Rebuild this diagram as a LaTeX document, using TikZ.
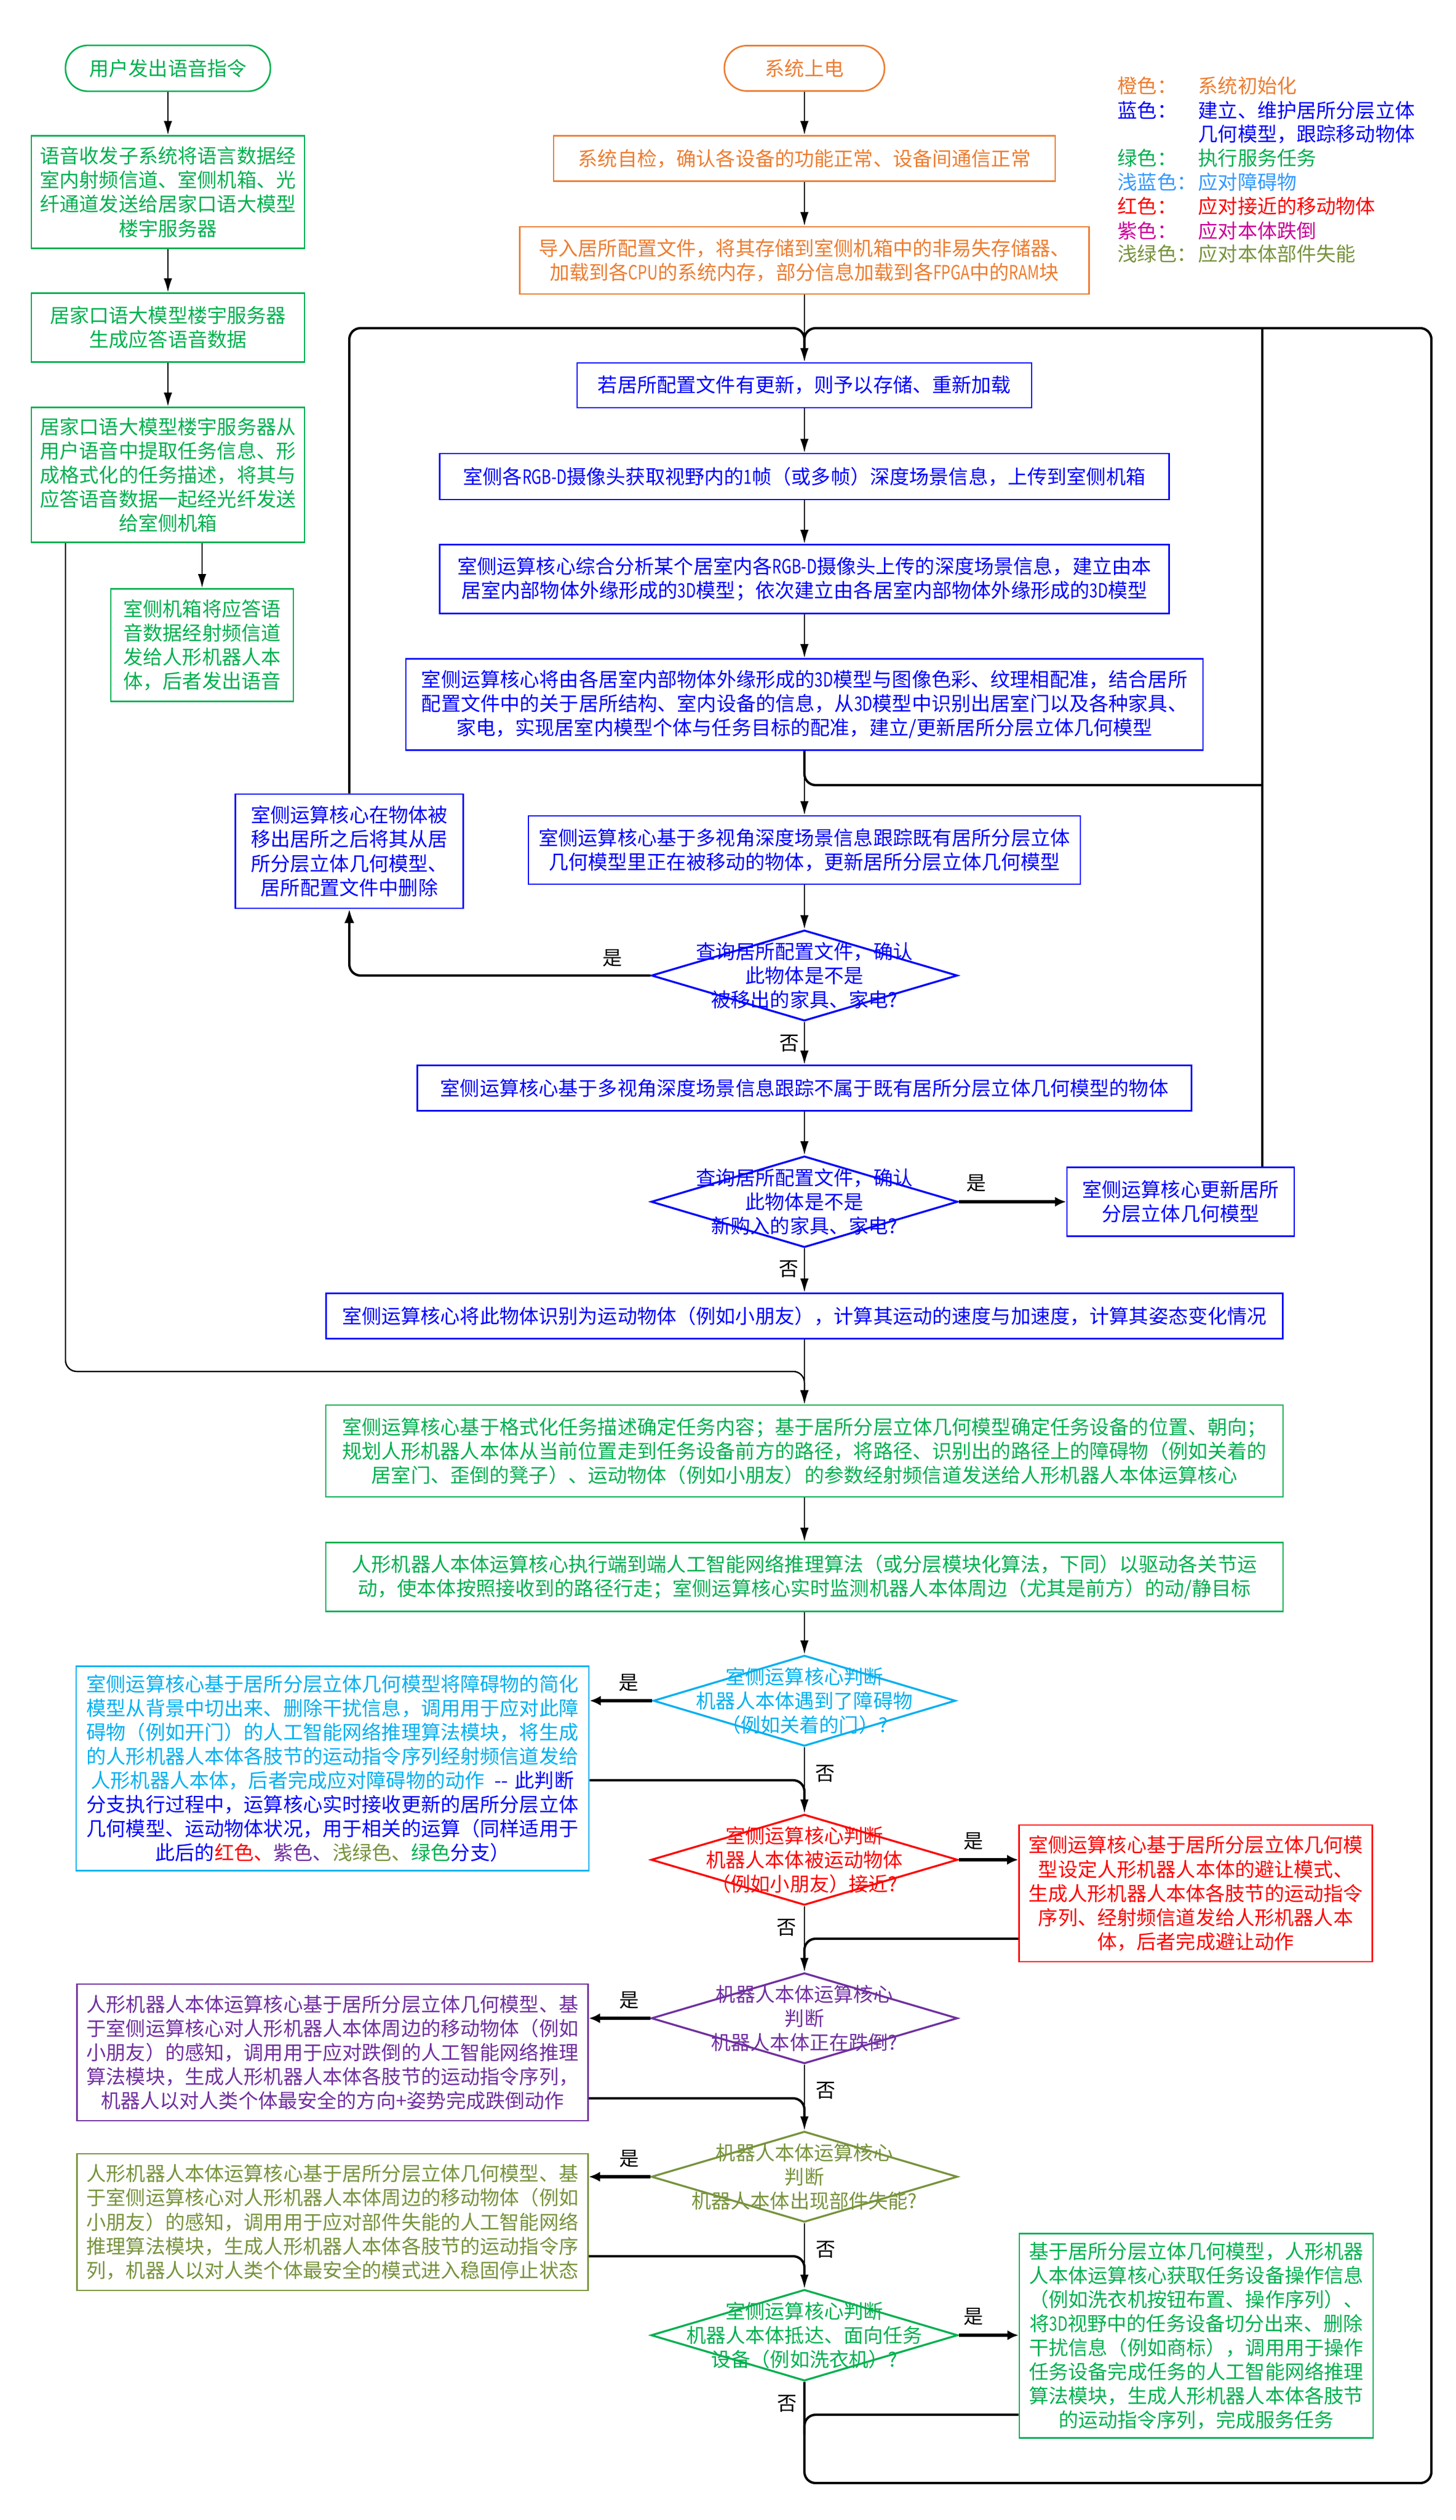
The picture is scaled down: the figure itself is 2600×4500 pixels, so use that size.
\documentclass[tikz,border=0pt]{standalone}
\usepackage{fontspec}
\setmainfont{Noto Sans CJK SC}
\usepackage{graphicx}
\usetikzlibrary{arrows.meta,shapes.geometric,calc}
\definecolor{cOr}{HTML}{ED7D31}
\definecolor{cBl}{HTML}{0000FF}
\definecolor{cGr}{HTML}{00B050}
\definecolor{cCy}{HTML}{00B0F0}
\definecolor{cRd}{HTML}{FF0000}
\definecolor{cPu}{HTML}{7030A0}
\definecolor{cOl}{HTML}{77933C}
\definecolor{cLc}{HTML}{3399FF}
\definecolor{cMg}{HTML}{CC0099}
\newcommand\myfs{\fontsize{10pt}{12.25pt}\selectfont}
\newcommand\lat[1]{\scalebox{0.75}[1]{#1}}
\begin{document}
\begin{tikzpicture}[x=0.1mm,y=-0.1mm,font=\myfs,
  box/.style 2 args={draw,rectangle,line width=0.8pt,minimum width=#1mm,minimum height=#2mm,inner sep=0pt,align=center},
  pill/.style 2 args={box={#1}{#2},rounded corners=4mm},
  dia/.style 2 args={draw,diamond,line width=1pt,minimum width=#1mm,minimum height=#2mm,inner sep=0pt},
  dtxt/.style={align=center,inner sep=0pt},
  ln/.style={line width=0.7pt,draw=black},
  ar/.style={ln,-{Latex[length=2.5mm,width=1.5mm]}},
  thk/.style={line width=1.2pt,draw=black},
  yar/.style={line width=1.5pt,draw=black,-{Latex[length=2mm,width=1.8mm]}},
  rc/.style={rounded corners=2mm},
  lab/.style={inner sep=0pt,text=black},
  leg/.style={anchor=west,inner sep=0pt}]
\fill[white] (0,0) rectangle (2600,4500);
\useasboundingbox (0,0) rectangle (2600,4500);

% ---------- left column (green) ----------
\node[pill={36.6}{8.2},cGr] (pg) at (300,122) {用户发出语音指令};
\node[box={48.8}{20.1},cGr] (g1) at (300,343) {语音收发子系统将语言数据经\\室内射频信道、室侧机箱、光\\纤通道发送给居家口语大模型\\楼宇服务器};
\node[box={48.8}{12.3},cGr] (g2) at (300,585) {居家口语大模型楼宇服务器\\生成应答语音数据};
\node[box={48.8}{24.1},cGr] (g3) at (300,848) {居家口语大模型楼宇服务器从\\用户语音中提取任务信息、形\\成格式化的任务描述，将其与\\应答语音数据一起经光纤发送\\给室侧机箱};
\node[box={32.6}{20.1},cGr] (g4) at (361,1152) {室侧机箱将应答语\\音数据经射频信道\\发给人形机器人本\\体，后者发出语音};

% ---------- orange ----------
\node[pill={28.6}{8.1},cOr] (po) at (1437,122) {系统上电};
\node[box={89.6}{8.1},cOr] (o1) at (1437,283) {系统自检，确认各设备的功能正常、设备间通信正常};
\node[box={101.7}{12.0},cOr] (o2) at (1437,465) {导入居所配置文件，将其存储到室侧机箱中的非易失存储器、\\加载到各\lat{CPU}的系统内存，部分信息加载到各\lat{FPGA}中的\lat{RAM}块};

% ---------- blue ----------
\node[box={81.2}{8.0},cBl] (b1) at (1437,688) {若居所配置文件有更新，则予以存储、重新加载};
\node[box={130.3}{8.2},cBl] (b2) at (1437,851) {室侧各\lat{RGB-D}摄像头获取视野内的\lat{1}帧（或多帧）深度场景信息，上传到室侧机箱};
\node[box={130.3}{12.3},cBl] (b3) at (1437,1034) {室侧运算核心综合分析某个居室内各\lat{RGB-D}摄像头上传的深度场景信息，建立由本\\居室内部物体外缘形成的\lat{3D}模型；依次建立由各居室内部物体外缘形成的\lat{3D}模型};
\node[box={142.4}{16.3},cBl] (b4) at (1437,1258) {室侧运算核心将由各居室内部物体外缘形成的\lat{3D}模型与图像色彩、纹理相配准，结合居所\\配置文件中的关于居所结构、室内设备的信息，从\lat{3D}模型中识别出居室门以及各种家具、\\家电，实现居室内模型个体与任务目标的配准，建立/更新居所分层立体几何模型};
\node[box={40.7}{20.4},cBl] (del) at (624,1520) {室侧运算核心在物体被\\移出居所之后将其从居\\所分层立体几何模型、\\居所配置文件中删除};
\node[box={98.6}{12.2},cBl] (trk) at (1437,1518) {室侧运算核心基于多视角深度场景信息跟踪既有居所分层立体\\几何模型里正在被移动的物体，更新居所分层立体几何模型};
\node[dia={54.7}{16.2},cBl] (d1) at (1437,1742) {};
\node[dtxt,cBl] (d1t) at (d1) {查询居所配置文件，确认\\此物体是不是\\被移出的家具、家电?};
\node[box={138.3}{8.1},cBl] (nb) at (1437,1943) {室侧运算核心基于多视角深度场景信息跟踪不属于既有居所分层立体几何模型的物体};
\node[dia={54.8}{16.3},cBl] (d2) at (1437,2146) {};
\node[dtxt,cBl] (d2t) at (d2) {查询居所配置文件，确认\\此物体是不是\\新购入的家具、家电?};
\node[box={40.6}{12.3},cBl] (upd) at (2109,2146) {室侧运算核心更新居所\\分层立体几何模型};
\node[box={170.9}{8.1},cBl] (mv) at (1437,2350) {室侧运算核心将此物体识别为运动物体（例如小朋友），计算其运动的速度与加速度，计算其姿态变化情况};

% ---------- green tasks ----------
\node[box={171}{16.4},cGr] (t1) at (1437,2591) {室侧运算核心基于格式化任务描述确定任务内容；基于居所分层立体几何模型确定任务设备的位置、朝向；\\规划人形机器人本体从当前位置走到任务设备前方的路径，将路径、识别出的路径上的障碍物（例如关着的\\居室门、歪倒的凳子）、运动物体（例如小朋友）的参数经射频信道发送给人形机器人本体运算核心};
\node[box={171}{12.3},cGr] (t2) at (1437,2816) {人形机器人本体运算核心执行端到端人工智能网络推理算法（或分层模块化算法，下同）以驱动各关节运\\动，使本体按照接收到的路径行走；室侧运算核心实时监测机器人本体周边（尤其是前方）的动/静目标};

% ---------- cyan ----------
\node[dia={54}{16.2},cCy] (dC) at (1437,3037) {};
\node[dtxt,cCy] (dCt) at (dC) {室侧运算核心判断\\机器人本体遇到了障碍物\\（例如关着的门）?};
\node[box={91.6}{36.5},cCy] (cbox) at (594,3158) {室侧运算核心基于居所分层立体几何模型将障碍物的简化\\模型从背景中切出来、删除干扰信息，调用用于应对此障\\碍物（例如开门）的人工智能网络推理算法模块，将生成\\的人形机器人本体各肢节的运动指令序列经射频信道发给\\人形机器人本体，后者完成应对障碍物的动作\textcolor{cBl}{\hspace{0.5em}-{}-\hspace{0.35em}此判断}\\\textcolor{cBl}{分支执行过程中，运算核心实时接收更新的居所分层立体}\\\textcolor{cBl}{几何模型、运动物体状况，用于相关的运算（同样适用于}\\\textcolor{cBl}{此后的}\textcolor{cRd}{红色、}\textcolor{cPu}{紫色、}\textcolor{cOl}{浅绿色、}\textcolor{cGr}{绿色}\textcolor{cBl}{分支）}};

% ---------- red ----------
\node[dia={54.8}{16.2},cRd] (dR) at (1437,3321) {};
\node[dtxt,cRd] (dRt) at (dR) {室侧运算核心判断\\机器人本体被运动物体\\（例如小朋友）接近?};
\node[box={63.1}{24.4},cRd] (rbox) at (2136,3381) {室侧运算核心基于居所分层立体几何模\\型设定人形机器人本体的避让模式、\\生成人形机器人本体各肢节的运动指令\\序列、经射频信道发给人形机器人本\\体，后者完成避让动作};

% ---------- purple ----------
\node[dia={54.7}{16.2},cPu] (dP) at (1437,3604) {};
\node[dtxt,cPu] (dPt) at (dP) {机器人本体运算核心\\判断\\机器人本体正在跌倒?};
\node[box={91.3}{24.4},cPu] (pbox) at (594,3665) {人形机器人本体运算核心基于居所分层立体几何模型、基\\于室侧运算核心对人形机器人本体周边的移动物体（例如\\小朋友）的感知，调用用于应对跌倒的人工智能网络推理\\算法模块，生成人形机器人本体各肢节的运动指令序列，\\机器人以对人类个体最安全的方向+姿势完成跌倒动作};

% ---------- olive ----------
\node[dia={54.7}{16.2},cOl] (dO) at (1437,3887) {};
\node[dtxt,cOl] (dOt) at (dO) {机器人本体运算核心\\判断\\机器人本体出现部件失能?};
\node[box={91.3}{24.4},cOl] (obox) at (594,3968) {人形机器人本体运算核心基于居所分层立体几何模型、基\\于室侧运算核心对人形机器人本体周边的移动物体（例如\\小朋友）的感知，调用用于应对部件失能的人工智能网络\\推理算法模块，生成人形机器人本体各肢节的运动指令序\\列，机器人以对人类个体最安全的模式进入稳固停止状态};

% ---------- green final ----------
\node[dia={54.8}{16.3},cGr] (dG) at (1437,4170) {};
\node[dtxt,cGr] (dGt) at (dG) {室侧运算核心判断\\机器人本体抵达、面向任务\\设备（例如洗衣机）?};
\node[box={63.2}{36.5},cGr] (fbox) at (2137,4171) {基于居所分层立体几何模型，人形机器\\人本体运算核心获取任务设备操作信息\\（例如洗衣机按钮布置、操作序列）、\\将\lat{3D}视野中的任务设备切分出来、删除\\干扰信息（例如商标），调用用于操作\\任务设备完成任务的人工智能网络推理\\算法模块，生成人形机器人本体各肢节\\的运动指令序列，完成服务任务};

% ---------- legend ----------
\node[leg,cOr] (la1) at (1996,153) {橙色：};
\node[leg,cOr] (lb1) at (2140,153) {系统初始化};
\node[leg,cBl] (la2) at (1996,197) {蓝色：};
\node[leg,cBl] (lb2) at (2140,197) {建立、维护居所分层立体};
\node[leg,cBl] (lb2b) at (2140,240) {几何模型，跟踪移动物体};
\node[leg,cGr] (la3) at (1996,282) {绿色：};
\node[leg,cGr] (lb3) at (2140,282) {执行服务任务};
\node[leg,cLc] (la4) at (1996,325) {浅蓝色：};
\node[leg,cLc] (lb4) at (2140,325) {应对障碍物};
\node[leg,cRd] (la5) at (1996,368) {红色：};
\node[leg,cRd] (lb5) at (2140,368) {应对接近的移动物体};
\node[leg,cMg] (la6) at (1996,412) {紫色：};
\node[leg,cMg] (lb6) at (2140,412) {应对本体跌倒};
\node[leg,cOl] (la7) at (1996,453) {浅绿色：};
\node[leg,cOl] (lb7) at (2140,453) {应对本体部件失能};

% ---------- coordinates ----------
\coordinate (jL) at (117,2449);
\coordinate (jT) at (1437,586);
\coordinate (jM) at (1437,1402);
\coordinate (xR) at (2255,0);
\coordinate (xRR) at (2557,0);
\coordinate (jB) at (1437,4434);
\coordinate (rC) at (1437,3179);
\coordinate (rR) at (1437,3462);
\coordinate (rP) at (1437,3747);
\coordinate (rO) at (1437,4029);
\coordinate (rG) at (1437,4312);

% ---------- connectors ----------
\draw[ar] (pg) -- (g1);
\draw[ar] (g1) -- (g2);
\draw[ar] (g2) -- (g3);
\draw[ar] (g4.north |- g3.south) -- (g4.north);
\draw[ar,rc] (g3.south -| jL) -- (jL) -- (jL -| t1.north) -- (t1.north);

\draw[ar] (po) -- (o1);
\draw[ar] (o1) -- (o2);
\draw[ar] (o2) -- (b1);
\draw[thk,rc] (del.north) -- (del.north |- jT) -- (jT) -- ($(jT)+(0,40)$);
\draw[thk,rc] (dG.south) -- (jB) -- (jB -| xRR) -- (jT -| xRR) -- (jT) -- ($(jT)+(0,40)$);
\draw[thk] (upd.north -| xR) -- (jT -| xR);
\draw[thk,rc] (b4.south) -- (jM) -- (jM -| xR);

\draw[ar] (b1) -- (b2);
\draw[ar] (b2) -- (b3);
\draw[ar] (b3) -- (b4);
\draw[ar] (b4) -- (trk);
\draw[ar] (trk) -- (d1);
\draw[thk,rc,-{Latex[length=2.5mm,width=1.8mm]}] (d1.west) -- (d1.west -| del.south) -- (del.south);
\draw[ar] (d1) -- (nb);
\draw[ar] (nb) -- (d2);
\draw[yar] (d2.east) -- (upd.west);
\draw[ar] (d2) -- (mv);
\draw[ar] (mv) -- (t1);
\draw[ar] (t1) -- (t2);
\draw[ar] (t2) -- (dC);

\draw[yar] (dC.west) -- (cbox.east |- dC.west);
\draw[ar] (dC) -- (dR);
\draw[thk,rc] (rC -| cbox.east) -- (rC) -- ($(rC)+(0,35)$);
\draw[yar] (dR.east) -- (rbox.west |- dR.east);
\draw[ar] (dR) -- (dP);
\draw[thk,rc] (rR -| rbox.west) -- (rR) -- ($(rR)+(0,35)$);
\draw[yar] (dP.west) -- (pbox.east |- dP.west);
\draw[ar] (dP) -- (dO);
\draw[thk,rc] (rP -| pbox.east) -- (rP) -- ($(rP)+(0,35)$);
\draw[yar] (dO.west) -- (obox.east |- dO.west);
\draw[ar] (dO) -- (dG);
\draw[thk,rc] (rO -| obox.east) -- (rO) -- ($(rO)+(0,35)$);
\draw[yar] (dG.east) -- (fbox.west |- dG.east);
\draw[thk,rc] (rG -| fbox.west) -- (rG) -- ($(rG)+(0,35)$);

% ---------- yes / no labels ----------
\node[lab] (y1) at (1094,1711) {是};
\node[lab] (n1) at (1410,1863) {否};
\node[lab] (y2) at (1744,2113) {是};
\node[lab] (n2) at (1409,2266) {否};
\node[lab] (yC) at (1123,3005) {是};
\node[lab] (nC) at (1474,3167) {否};
\node[lab] (yR) at (1739,3288) {是};
\node[lab] (nR) at (1405,3442) {否};
\node[lab] (yP) at (1124,3572) {是};
\node[lab] (nP) at (1475,3733) {否};
\node[lab] (yO) at (1124,3855) {是};
\node[lab] (nO) at (1475,4017) {否};
\node[lab] (yG) at (1739,4137) {是};
\node[lab] (nG) at (1406,4292) {否};
\end{tikzpicture}
\end{document}
